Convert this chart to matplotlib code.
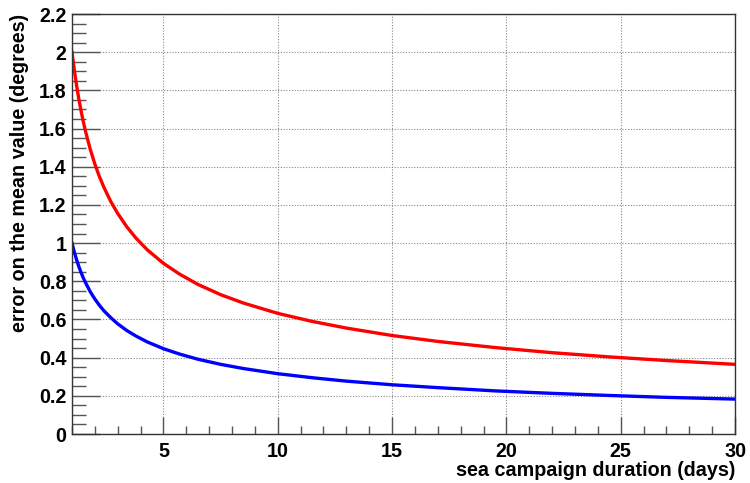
import matplotlib.pyplot as plt
from matplotlib.ticker import MultipleLocator, FuncFormatter

# values
days = [1, 1.1, 1.2, 1.3, 1.4, 1.5, 1.6, 1.8, 2, 2.2, 2.4, 2.7, 3, 3.4,
        3.8, 4.3, 5, 5.7, 6.5, 7.5, 8.5, 10, 11.5, 13, 15, 17, 19.5,
        22, 24.5, 27, 30]
err_red = [2.000, 1.907, 1.826, 1.754, 1.690, 1.633, 1.581, 1.491, 1.414,
           1.348, 1.291, 1.217, 1.155, 1.085, 1.026, 0.964, 0.894, 0.838,
           0.784, 0.730, 0.686, 0.632, 0.590, 0.555, 0.516, 0.485, 0.453,
           0.426, 0.404, 0.385, 0.365]
err_blue = [1.000, 0.953, 0.913, 0.877, 0.845, 0.816, 0.791, 0.745, 0.707,
            0.674, 0.645, 0.609, 0.577, 0.542, 0.513, 0.482, 0.447, 0.419,
            0.392, 0.365, 0.343, 0.316, 0.295, 0.277, 0.258, 0.243, 0.226,
            0.213, 0.202, 0.192, 0.183]

plt.rcParams['font.family'] = ['Liberation Sans', 'DejaVu Sans']
plt.rcParams['font.weight'] = 'bold'
fs = 14.2

fig = plt.figure(figsize=(7.5, 4.83), dpi=100)
ax = fig.add_axes([0.096, 0.1014, 0.884, 0.8696])

ax.plot(days, err_red, color='#ff0000', lw=2.4)
ax.plot(days, err_blue, color='#0000ff', lw=2.4)

ax.set_xlim(1, 30)
ax.set_ylim(0, 2.2)
ax.xaxis.set_major_locator(MultipleLocator(5))
ax.xaxis.set_minor_locator(MultipleLocator(1))
ax.yaxis.set_major_locator(MultipleLocator(0.2))
ax.yaxis.set_minor_locator(MultipleLocator(0.05))
ax.yaxis.set_major_formatter(FuncFormatter(lambda v, p: f"{v:g}"))

ax.grid(True, which='major', ls=(0, (1, 1.5)), color='#888888', lw=0.8)

ax.tick_params(which='major', direction='in', top=False, right=False,
               labelsize=fs, color='#555555')
ax.tick_params(axis='x', which='major', length=12, width=1, pad=6)
ax.tick_params(axis='y', which='major', length=20, width=1, pad=4)
ax.tick_params(axis='x', which='minor', direction='in', length=6, width=1,
               color='#555555')
ax.tick_params(axis='y', which='minor', direction='in', length=10, width=1,
               color='#555555')
for lab in ax.get_xticklabels() + ax.get_yticklabels():
    lab.set_fontweight('bold')

for s in ax.spines.values():
    s.set_color('#333333')
    s.set_linewidth(1)

ax.set_xlabel('sea campaign duration (days)', fontsize=fs,
              fontweight='bold', loc='right', labelpad=0)
ax.set_ylabel('error on the mean value (degrees)', fontsize=fs,
              fontweight='bold', loc='top', labelpad=7)

fig.savefig('out.png', dpi=100)
